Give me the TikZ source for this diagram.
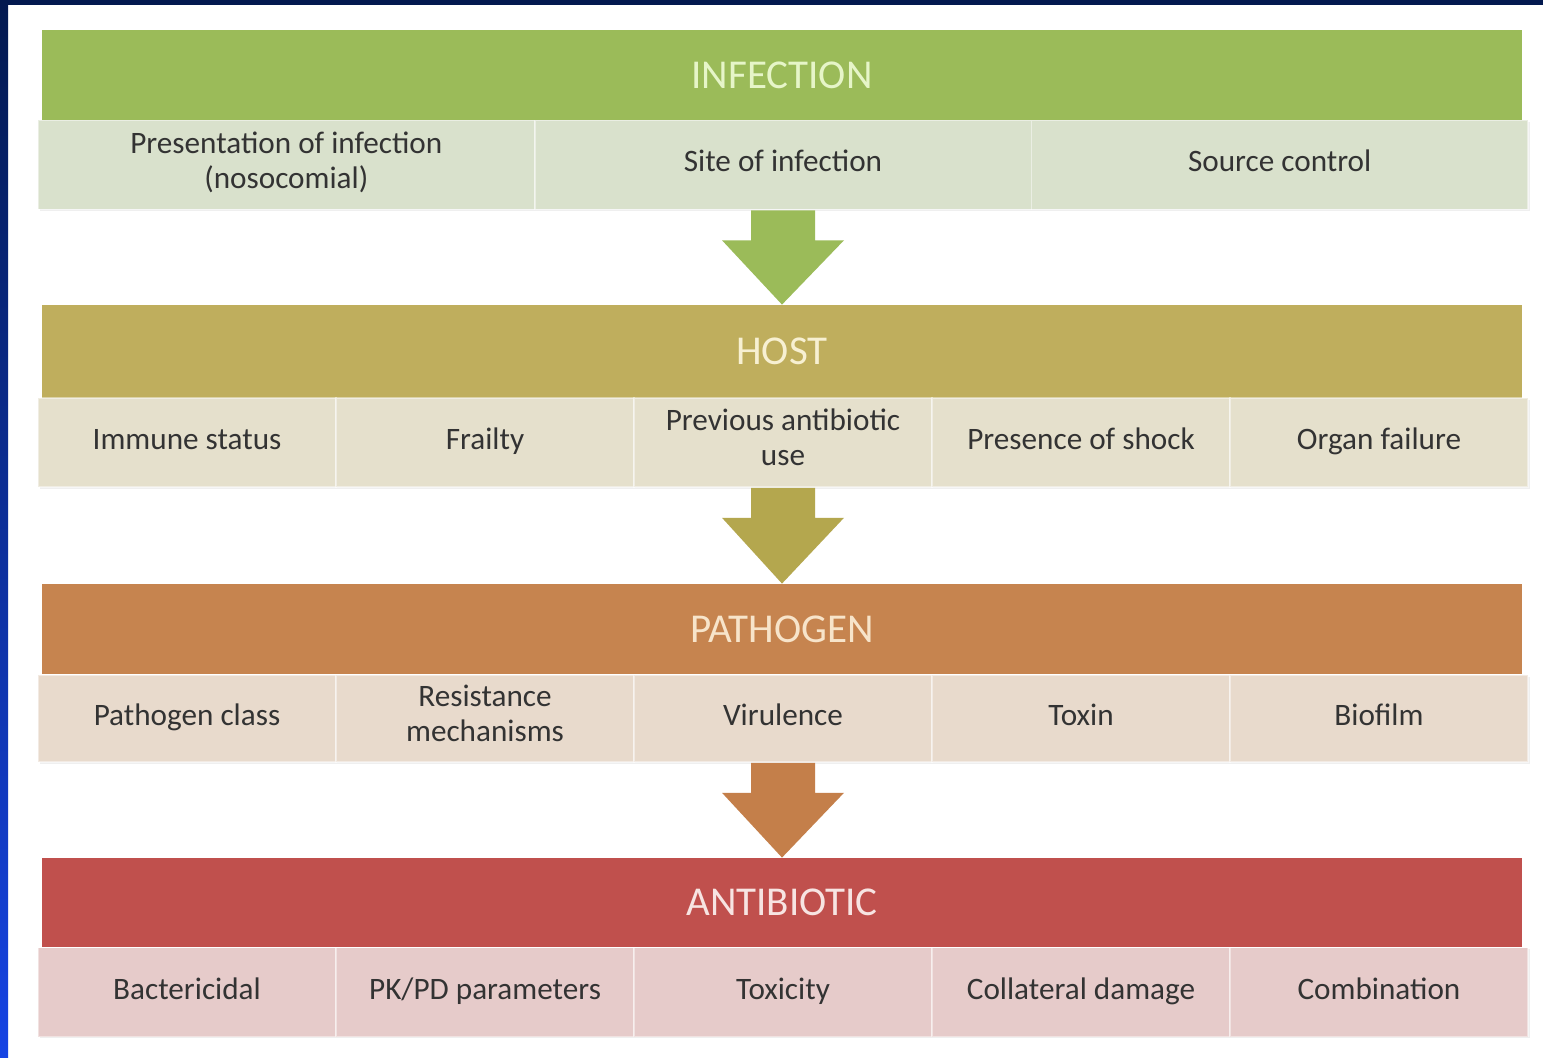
\documentclass[tikz,border=0pt]{standalone}
\usepackage{fontspec}
\setmainfont{Carlito}
\usetikzlibrary{calc,shadows}

% band colours
\definecolor{infgreen}{HTML}{9BBB59}
\definecolor{infpale}{HTML}{D9E1CC}
\definecolor{hostolive}{HTML}{BFAE5D}
\definecolor{hostpale}{HTML}{E5E0CC}
\definecolor{pathorange}{HTML}{C6844F}
\definecolor{pathpale}{HTML}{E8DACC}
\definecolor{abred}{HTML}{C0504D}
\definecolor{abpale}{HTML}{E6CBCA}
\definecolor{hostarrow}{HTML}{B4A74E}
\definecolor{patharrow}{HTML}{C47F4A}
\definecolor{frame}{HTML}{03194F}
\definecolor{framelight}{HTML}{1644E4}

\tikzset{
  header/.style={rectangle, minimum width=740pt, minimum height=45pt, inner sep=0pt,
    font=\fontsize{20.5}{23}\selectfont},
  cell/.style={rectangle, minimum height=44.5pt, inner sep=2pt, align=center,
    draw=white, draw opacity=0.45, line width=0.8pt, text=black!80,
    font=\fontsize{15.6}{17.5}\selectfont,
    execute at begin node=\strut, execute at end node=\strut,
    drop shadow={shadow xshift=0.8pt, shadow yshift=-0.8pt, opacity=0.12}},
  cell3/.style={cell, minimum width=248.3pt},
  cell5/.style={cell, minimum width=149pt}
}

\begin{document}
\begin{tikzpicture}[x=0.5pt, y=-0.5pt]
  \useasboundingbox (0,0) rectangle (1543,1058);
  \fill[white] (0,0) rectangle (1543,1058);

  % Frame
  \fill[frame] (0,0) rectangle (1543,5);
  \shade[top color=frame, bottom color=framelight] (0,0) rectangle (8,1058);

  % Headers
  \node[header, fill=infgreen, text={rgb,255:red,230;green,245;blue,200}] (infection) at (782,75) {INFECTION};
  \node[header, fill=hostolive, minimum height=46.5pt, text={rgb,255:red,247;green,240;blue,210}] (host) at (782,351.5) {HOST};
  \node[header, fill=pathorange, text={rgb,255:red,247;green,228;blue,202}] (pathogen) at (782,629) {PATHOGEN};
  \node[header, fill=abred, minimum height=44.5pt, text={rgb,255:red,247;green,228;blue,226}] (antibiotic) at (782,902.5) {ANTIBIOTIC};

  % Rows of factors
  \foreach \t [count=\i] in {{Presentation of infection\\(nosocomial)}, Site of infection, Source control}
    \node[cell3, fill=infpale] (inf\i) at ({38+496.67*(\i-0.5)},165) {\t};
  \foreach \t [count=\i] in {Immune status, Frailty, {Previous antibiotic\\use}, Presence of shock, Organ failure}
    \node[cell5, fill=hostpale] (host\i) at ({38+298*(\i-0.5)},442.5) {\t};
  \foreach \t [count=\i] in {Pathogen class, {Resistance\\mechanisms}, Virulence, Toxin, Biofilm}
    \node[cell5, fill=pathpale, minimum height=43.5pt] (path\i) at ({38+298*(\i-0.5)},718.5) {\t};
  \foreach \t [count=\i] in {Bactericidal, PK/PD parameters, Toxicity, Collateral damage, Combination}
    \node[cell5, fill=abpale] (ab\i) at ({38+298*(\i-0.5)},992) {\t};

  % Block arrows between the bands
  \foreach \a/\b/\c in {inf2/host/infgreen, host3/pathogen/hostarrow, path3/antibiotic/patharrow} {
    \fill[\c] ($(\a.south)+(-32,0)$) -- ($(\a.south)+(32,0)$) -- ($(\a.south)+(32,30)$)
      -- ($(\a.south)+(61,30)$) -- (\b.north) -- ($(\a.south)+(-61,30)$)
      -- ($(\a.south)+(-32,30)$) -- cycle;
  }
\end{tikzpicture}
\end{document}
